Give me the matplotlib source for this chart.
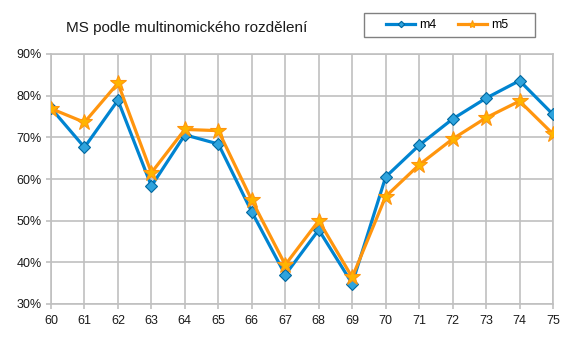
import matplotlib.patches as mpatches
import matplotlib.pyplot as plt
from matplotlib.ticker import FuncFormatter, MultipleLocator

FONT_FAMILY = "Liberation Sans"
GRID_COLOR = "#c0c0c0"
TEXT_COLOR = "#1a1a1a"
M4_COLOR = "#0084d1"
M5_COLOR = "#ff950e"
W, H = 568, 338

years = list(range(60, 76))
m4 = [77.0, 67.6, 78.9, 58.3, 70.6, 68.4, 52.1, 37.0, 47.8, 34.9, 60.5, 68.1, 74.4, 79.4, 83.6, 75.5]
m5 = [76.9, 73.6, 83.0, 61.5, 71.9, 71.6, 54.9, 39.4, 50.0, 36.4, 55.8, 63.4, 69.6, 74.7, 78.7, 70.8]

plt.rcParams["font.family"] = [FONT_FAMILY, "DejaVu Sans"]

fig = plt.figure(figsize=(W / 100, H / 100), dpi=100)
ax = fig.add_axes([51 / W, 1 - 304 / H, 502 / W, 250 / H])

ax.plot(years, m4, color=M4_COLOR, lw=2.3, marker="D", markersize=6.5,
        markerfacecolor="#2ea3dd", markeredgecolor="#00679f", markeredgewidth=0.8,
        label="m4", zorder=3)
ax.plot(years, m5, color=M5_COLOR, lw=2.3, marker="*", markersize=12,
        markerfacecolor="#ffb400", markeredgecolor=M5_COLOR, markeredgewidth=0.8,
        label="m5", zorder=4)

ax.set_xlim(60, 75)
ax.set_ylim(30, 90)
ax.xaxis.set_major_locator(MultipleLocator(1))
ax.yaxis.set_major_locator(MultipleLocator(10))
ax.yaxis.set_major_formatter(FuncFormatter(lambda v, _: f"{v:.0f}%"))

ax.grid(True, color=GRID_COLOR, lw=1.2)
ax.set_axisbelow(True)
for s in ax.spines.values():
    s.set_color(GRID_COLOR)
    s.set_linewidth(1.2)
ax.tick_params(colors=GRID_COLOR, labelcolor=TEXT_COLOR, labelsize=9,
               length=3.5, width=1.2)
ax.tick_params(axis="x", pad=4.5)
ax.tick_params(axis="y", pad=3)

fig.text(187 / W, 1 - 32 / H, "MS podle multinomického rozdělení",
         ha="center", va="baseline", fontsize=11, color=TEXT_COLOR)

# legend box drawn separately so the padding matches
fig.add_artist(mpatches.Rectangle(
    (364 / W, 1 - 37 / H), 171 / W, 24.5 / H, transform=fig.transFigure,
    facecolor="white", edgecolor="#808080", linewidth=1, zorder=5))
leg = fig.legend(loc="center left", bbox_to_anchor=(386 / W, 1 - 25 / H),
                 ncol=2, frameon=False, fontsize=8.8, borderpad=0,
                 borderaxespad=0, handlelength=2.4, columnspacing=1.7,
                 handletextpad=0.35, markerscale=0.5)
leg.set_zorder(6)

fig.savefig("out.png", dpi=100)
